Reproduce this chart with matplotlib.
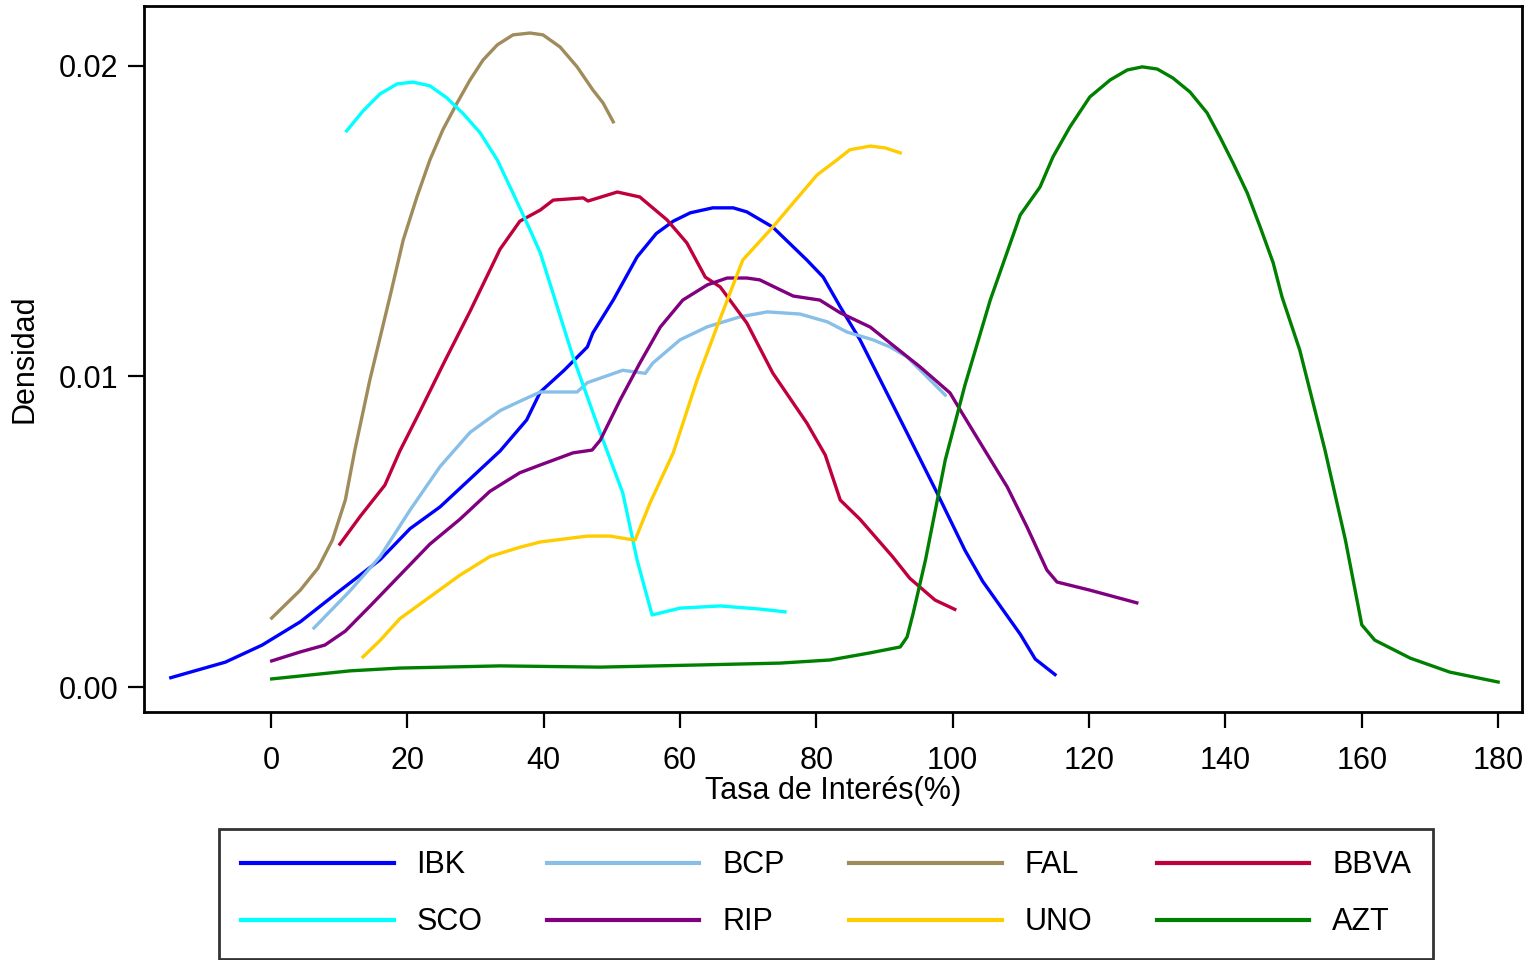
import matplotlib
matplotlib.use("Agg")
import matplotlib.pyplot as plt

# Densidad de la tasa de interés por entidad
ibk_x = [-14.7, -6.7, -1.3, 4.3, 10.1, 16.0, 20.4, 24.8, 29.2, 33.6, 37.5, 39.5, 43.0, 46.4, 47.2,
         50.2, 53.7, 56.5, 59.0, 61.5, 64.8, 67.8, 69.8, 73.6, 78.6, 81.0, 83.5, 86.4, 93.3, 97.7,
         101.8, 104.4, 109.9, 112.1, 115.0]
ibk_y = [0.0003, 0.0008, 0.00135, 0.0021, 0.0031, 0.0041, 0.0051, 0.0058, 0.0067, 0.0076, 0.0086,
         0.0095, 0.0102, 0.01095, 0.0114, 0.01246, 0.01385, 0.0146, 0.0150, 0.01527, 0.01543,
         0.01543, 0.0153, 0.01481, 0.01375, 0.0132, 0.01224, 0.01118, 0.00818, 0.00625, 0.0044,
         0.0034, 0.0017, 0.0009, 0.0004]

bcp_x = [6.3, 11.6, 16.0, 20.4, 24.8, 29.2, 33.6, 36.5, 39.5, 44.9, 46.4, 51.6, 54.9, 56.0, 60.0,
         64.0, 68.8, 72.8, 77.6, 81.6, 84.5, 88.3, 90.8, 93.3, 98.9]
bcp_y = [0.0019, 0.0031, 0.0042, 0.0057, 0.0071, 0.0082, 0.0089, 0.0092, 0.0095, 0.0095, 0.0098,
         0.0102, 0.0101, 0.01043, 0.01118, 0.0116, 0.01192, 0.01208, 0.01201, 0.01176, 0.01143,
         0.01118, 0.01095, 0.01063, 0.0094]

fal_x = [0.1, 4.3, 6.9, 9.0, 10.9, 12.3, 14.5, 17.5, 19.4, 21.4, 23.3, 25.2, 27.3, 29.2, 31.1,
         33.2, 35.5, 38.0, 39.9, 42.4, 44.9, 47.2, 48.7, 50.2]
fal_y = [0.00222, 0.00312, 0.00383, 0.00473, 0.00602, 0.00763, 0.00989, 0.01262, 0.0144,
         0.01578, 0.01697, 0.01794, 0.01881, 0.01955, 0.02019, 0.02068, 0.021, 0.02106, 0.021,
         0.02061, 0.01997, 0.01923, 0.01881, 0.0182]

bbva_x = [10.1, 13.1, 16.7, 18.9, 21.9, 25.5, 29.2, 33.6, 36.5, 39.5, 41.4, 45.8, 46.5, 50.8,
          54.1, 58.1, 61.0, 63.7, 65.9, 69.8, 73.6, 78.6, 81.3, 83.5, 86.4, 91.2, 93.7, 97.4, 100.3]
bbva_y = [0.0046, 0.0055, 0.0065, 0.0076, 0.0089, 0.0105, 0.0121, 0.0141, 0.0150, 0.01536,
          0.01568, 0.01575, 0.01565, 0.01594, 0.01578, 0.01504, 0.0143, 0.0132, 0.01288, 0.01172,
          0.01011, 0.0085, 0.00747, 0.00602, 0.0054, 0.00419, 0.0035, 0.0028, 0.0025]

sco_x = [11.1, 13.5, 16.0, 18.5, 20.8, 23.3, 25.8, 28.2, 30.7, 33.2, 35.5, 38.0, 39.5, 44.3,
         48.3, 51.6, 53.7, 54.9, 55.9, 60.0, 65.9, 71.7, 75.4]
sco_y = [0.01791, 0.01855, 0.0191, 0.01942, 0.01948, 0.01936, 0.01897, 0.01846, 0.01784,
         0.01697, 0.0159, 0.01472, 0.01398, 0.01063, 0.00818, 0.00625, 0.00409, 0.00312,
         0.00232, 0.00254, 0.00261, 0.00251, 0.00242]

rip_x = [0.1, 4.3, 7.9, 10.9, 14.5, 18.9, 23.3, 27.7, 32.1, 36.5, 39.5, 44.3, 47.1, 48.3, 51.2,
         54.1, 57.1, 60.4, 64.0, 66.9, 69.8, 71.7, 74.7, 76.6, 80.5, 83.5, 87.9, 90.8, 95.2, 99.6,
         101.1, 104.4, 108.0, 110.9, 113.8, 115.3, 120.1, 127.0]
rip_y = [0.00084, 0.00113, 0.00135, 0.0018, 0.0026, 0.0036, 0.0046, 0.0054, 0.0063, 0.0069,
         0.00715, 0.00754, 0.00763, 0.00795, 0.00924, 0.01043, 0.01159, 0.01246, 0.01295,
         0.01317, 0.01317, 0.01311, 0.01279, 0.01259, 0.01246, 0.01205, 0.01159, 0.01108,
         0.01031, 0.00947, 0.00892, 0.00773, 0.00644, 0.00515, 0.00377, 0.00338, 0.00312, 0.00271]

uno_x = [13.5, 16.0, 18.9, 23.3, 27.7, 32.1, 36.5, 39.5, 46.4, 49.7, 53.4, 55.6, 59.0, 62.5,
         65.4, 69.2, 73.6, 76.6, 80.1, 83.0, 84.9, 87.9, 90.1, 92.3]
uno_y = [0.00097, 0.0015, 0.0022, 0.0029, 0.0036, 0.0042, 0.0045, 0.00467, 0.00486, 0.00486,
         0.00473, 0.00593, 0.00754, 0.00989, 0.01159, 0.01375, 0.01481, 0.01559, 0.01649,
         0.01697, 0.0173, 0.01742, 0.01736, 0.0172]

azt_x = [0.1, 11.6, 18.9, 33.6, 48.3, 62.9, 74.7, 82.0, 87.9, 92.3, 93.3, 94.2, 96.0, 98.9,
         101.8, 105.5, 109.9, 112.8, 114.7, 117.2, 120.1, 123.1, 125.6, 127.8, 130.0, 132.3,
         134.8, 137.3, 139.2, 141.1, 143.2, 145.1, 147.0, 148.3, 150.9, 154.6, 157.6, 160.0,
         161.9, 167.1, 172.9, 180.0]
azt_y = [0.00026, 0.00052, 0.00061, 0.00068, 0.00064, 0.00071, 0.00077, 0.00087, 0.0011,
         0.00129, 0.00161, 0.00238, 0.00409, 0.00731, 0.00973, 0.01246, 0.0152, 0.0161,
         0.01707, 0.01804, 0.019, 0.01955, 0.01987, 0.01997, 0.0199, 0.01961, 0.01916, 0.01849,
         0.01771, 0.01688, 0.01591, 0.01481, 0.01366, 0.01256, 0.01085, 0.00763, 0.00473, 0.002,
         0.00151, 0.00093, 0.00048, 0.00016]

labels = ["IBK", "BCP", "FAL", "BBVA", "SCO", "RIP", "UNO", "AZT"]
colors = ["#0000ff", "#87bfe8", "#a08c5a", "#c0003c", "#00ffff", "#800080", "#ffcc00", "#008000"]
xticks = [0, 20, 40, 60, 80, 100, 120, 140, 160, 180]
yticks = [0.0, 0.01, 0.02]
yticklabels = ["0.00", "0.01", "0.02"]

plt.rcParams['font.family'] = ['Liberation Sans', 'DejaVu Sans']
plt.rcParams['font.size'] = 22

fig = plt.figure(figsize=(15.3, 9.6), dpi=100)
ax = fig.add_axes([144 / 1530, 1 - 712 / 960, 1378 / 1530, 706 / 960])

series = [(ibk_x, ibk_y), (bcp_x, bcp_y), (fal_x, fal_y), (bbva_x, bbva_y),
          (sco_x, sco_y), (rip_x, rip_y), (uno_x, uno_y), (azt_x, azt_y)]
for (xs, ys), lab, col in zip(series, labels, colors):
    ax.plot(xs, ys, color=col, lw=2.4, label=lab, solid_joinstyle="round")

ax.set_xlim(-18.63, 183.5)
ax.set_ylim(-0.000805, 0.02193)
ax.set_xticks(xticks)
ax.set_yticks(yticks)
ax.set_yticklabels(yticklabels)
ax.tick_params(axis="both", direction="out", length=11.5, width=1.6, labelsize=22, color="black")
ax.tick_params(axis="x", pad=13)
ax.tick_params(axis="y", pad=7)
for sp in ax.spines.values():
    sp.set_linewidth(2.0)
    sp.set_color("black")

ax.set_xlabel("Tasa de Interés(%)", fontsize=22, labelpad=0)
ax.set_ylabel("Densidad", fontsize=22, labelpad=14)

# legend reads row by row like the original (matplotlib fills columns first)
h, l = ax.get_legend_handles_labels()
order = [0, 4, 1, 5, 2, 6, 3, 7]
leg = fig.legend([h[i] for i in order], [l[i] for i in order], ncol=4,
                 loc="upper center", bbox_to_anchor=(826 / 1530, 1 - 829 / 960),
                 borderaxespad=0, frameon=True, fancybox=False, edgecolor="black",
                 fontsize=22, handlelength=5.0, handletextpad=0.75, columnspacing=2.1,
                 labelspacing=0.88, borderpad=0.7)
leg.get_frame().set_linewidth(2.0)
for line in leg.get_lines():
    line.set_linewidth(3.0)

fig.savefig("out.png", dpi=100)
